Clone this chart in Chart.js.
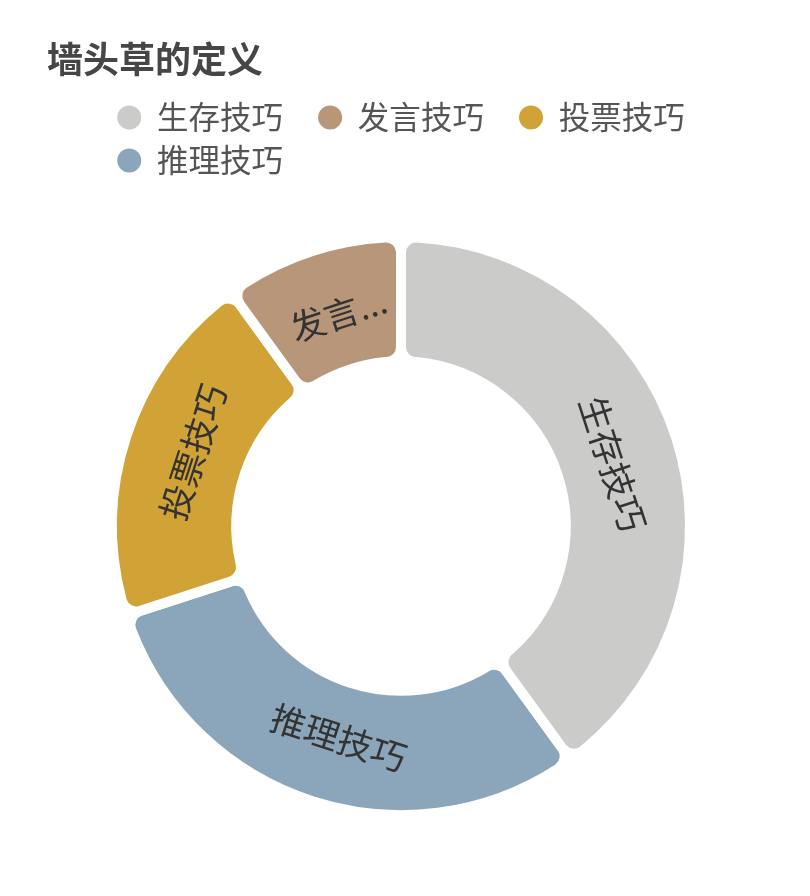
<!DOCTYPE html>
<html>
<head>
<meta charset="utf-8">
<script src="https://cdn.jsdelivr.net/npm/chart.js@4/dist/chart.umd.min.js"></script>
<style>
  html, body { margin: 0; padding: 0; background: #fff; }
  #wrap { width: 810px; height: 896px; position: relative; }
</style>
</head>
<body>
<div id="wrap"><canvas id="chart" width="810" height="896"></canvas></div>
<script>
const chartTitle = '墙头草的定义';
const categories = ['生存技巧', '发言技巧', '投票技巧', '推理技巧'];
const values = [40, 10, 20, 30];
const colors = ['#cbcbca', '#b8967a', '#d1a336', '#8ba6ba'];

const FONT = "'Noto Sans CJK SC', 'Noto Sans', sans-serif";
const LEGEND_GAP = '\u2002\u2005'; // extra room after each legend entry

// segments run counter-clockwise in the picture, so draw the arrays reversed
const drawLabels = categories.slice().reverse();
const drawValues = values.slice().reverse();
const drawColors = colors.slice().reverse();

// text along each ring segment, truncated with ... when it does not fit
const sliceLabels = {
    id: 'sliceLabels',
    afterDatasetsDraw(chart) {
        const ctx = chart.ctx;
        const meta = chart.getDatasetMeta(0);
        ctx.save();
        ctx.font = '35px ' + FONT;
        ctx.fillStyle = '#333';
        ctx.textAlign = 'center';
        ctx.textBaseline = 'middle';
        meta.data.forEach((arc, i) => {
            const p = arc.getProps(['x', 'y', 'startAngle', 'endAngle', 'innerRadius', 'outerRadius'], true);
            const mid = (p.startAngle + p.endAngle) / 2;
            const r = p.innerRadius + (p.outerRadius - p.innerRadius) * 0.45;
            const maxW = (p.endAngle - p.startAngle) * r - 12;
            let text = chart.data.labels[i];
            if (ctx.measureText(text).width > maxW) {
                let t = text;
                while (t.length > 1 && ctx.measureText(t + '...').width > maxW) t = t.slice(0, -1);
                text = t + '...';
            }
            let rot = mid + Math.PI / 2;
            while (rot > Math.PI / 2) rot -= Math.PI;
            while (rot <= -Math.PI / 2) rot += Math.PI;
            ctx.save();
            ctx.translate(p.x + Math.cos(mid) * r, p.y + Math.sin(mid) * r);
            ctx.rotate(rot);
            ctx.fillText(text, 6, 0);
            ctx.restore();
        });
        ctx.restore();
    }
};

// every legend row starts where the first one starts (rows are left aligned)
const legendRows = {
    id: 'legendRows',
    afterLayout(chart) {
        const legend = chart.legend;
        const lw = legend && legend.lineWidths;
        if (!lw) return;
        const lbl = legend.options.labels;
        const ctx = chart.ctx;
        ctx.save();
        ctx.font = lbl.font.size + 'px ' + FONT;
        const trail = ctx.measureText(LEGEND_GAP).width;
        ctx.restore();
        const first = lw[0] - trail;
        for (let i = 0; i < lw.length; i++) lw[i] = first;
    }
};

const defaultLabels = Chart.overrides.doughnut.plugins.legend.labels.generateLabels;

new Chart(document.getElementById('chart'), {
    type: 'doughnut',
    data: {
        labels: drawLabels,
        datasets: [{
            data: drawValues,
            backgroundColor: drawColors,
            borderColor: '#ffffff',
            borderWidth: 10,
            borderRadius: 15,
            hoverOffset: 0
        }]
    },
    options: {
        responsive: false,
        animation: false,
        rotation: 144,
        radius: 289,
        cutout: '57%',
        layout: {
            padding: { left: 47, right: 55, top: 0, bottom: 30 }
        },
        plugins: {
            title: {
                display: true,
                text: chartTitle,
                align: 'start',
                color: '#464646',
                font: { family: FONT, size: 36, weight: 'bold' },
                padding: { top: 38, bottom: 9 }
            },
            legend: {
                position: 'top',
                align: 'center',
                labels: {
                    usePointStyle: true,
                    pointStyle: 'circle',
                    pointStyleWidth: 24,
                    boxHeight: 17,
                    padding: 11.5,
                    color: '#555',
                    font: { family: FONT, size: 31.5 },
                    generateLabels(chart) {
                        return defaultLabels(chart).map(item => {
                            item.lineWidth = 0;
                            item.strokeStyle = 'rgba(0,0,0,0)';
                            item.text = item.text + LEGEND_GAP;
                            return item;
                        });
                    },
                    sort: (a, b) => b.index - a.index
                }
            },
            tooltip: { enabled: false }
        }
    },
    plugins: [sliceLabels, legendRows]
});
</script>
</body>
</html>
